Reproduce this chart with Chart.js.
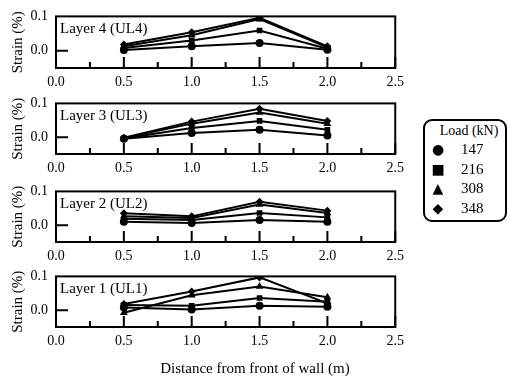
<!DOCTYPE html>
<html lang="en">
  <head>
    <meta charset="UTF-8" />
    <title>Strain vs distance</title>
    <script src="https://cdn.jsdelivr.net/npm/chart.js"></script>
    <style>
      body { margin: 0; background: #fff; font-family: "Liberation Serif", "Times New Roman", "DejaVu Serif", serif; }
      #wrap { position: relative; width: 508px; height: 381px; }
      .painel { position: absolute; left: 0; }
      #tituloX {
        position: absolute; left: 105px; width: 300px; top: 358px; text-align: center;
        font-size: 15px; line-height: 20px; color: #000;
      }
      #legenda {
        position: absolute; left: 423px; top: 119px; width: 80px; height: 99px;
        border: 2px solid #000; border-radius: 9px; font-size: 15px; color: #000;
      }
      #legenda .tit { text-align: center; font-size: 14px; margin-top: 1px; margin-left: 8px; line-height: 18px; }
      #legenda .item { position: relative; height: 19.5px; line-height: 19.5px; }
      #legenda .mk { position: absolute; left: 6px; width: 14px; text-align: center; font-family: "DejaVu Sans"; font-size: 14px; }
      #legenda .val { position: absolute; left: 36px; }
    </style>
  </head>
  <body>
    <div id="wrap">
      <canvas id="g4" class="painel"></canvas>
      <canvas id="g3" class="painel"></canvas>
      <canvas id="g2" class="painel"></canvas>
      <canvas id="g1" class="painel"></canvas>
      <div id="tituloX">Distance from front of wall (m)</div>
      <div id="legenda">
        <div class="tit">Load (kN)</div>
        <div class="item"><span class="mk">●</span><span class="val">147</span></div>
        <div class="item"><span class="mk">■</span><span class="val">216</span></div>
        <div class="item"><span class="mk">▲</span><span class="val">308</span></div>
        <div class="item"><span class="mk">◆</span><span class="val">348</span></div>
      </div>
    </div>
  </body>
</html>

<script>
  const fonte = "'Liberation Serif', 'Times New Roman', 'DejaVu Serif', serif";

  // distancias medidas (m)
  const distancias = [0.5, 1.0, 1.5, 2.0];
  const cargas = ["147", "216", "308", "348"];
  const marcadores = ["circle", "rect", "triangle", "rectRot"];
  const xTicks = [0, 0.5, 1.0, 1.5, 2.0, 2.5];
  const xTicksMenores = [0.25, 0.75, 1.25, 1.75, 2.25];
  const yTicks = [0, 0.1];

  // deformacao (%) por camada, uma linha por carga
  const ul4_147 = [0.002, 0.013, 0.023, 0.003];
  const ul4_216 = [0.008, 0.030, 0.059, 0.006];
  const ul4_308 = [0.013, 0.045, 0.092, 0.010];
  const ul4_348 = [0.018, 0.054, 0.096, 0.013];

  const ul3_147 = [-0.005, 0.012, 0.022, 0.005];
  const ul3_216 = [-0.004, 0.027, 0.048, 0.022];
  const ul3_308 = [-0.003, 0.040, 0.073, 0.040];
  const ul3_348 = [-0.002, 0.046, 0.084, 0.048];

  const ul2_147 = [0.010, 0.006, 0.015, 0.010];
  const ul2_216 = [0.019, 0.015, 0.036, 0.023];
  const ul2_308 = [0.026, 0.021, 0.061, 0.036];
  const ul2_348 = [0.035, 0.026, 0.069, 0.043];

  const ul1_147 = [0.008, 0.002, 0.013, 0.010];
  const ul1_216 = [0.015, 0.013, 0.036, 0.025];
  const ul1_308 = [-0.008, 0.044, 0.070, 0.038];
  const ul1_348 = [0.018, 0.055, 0.097, 0.020];

  const camadas = [
    { id: "g4", titulo: "Layer 4 (UL4)", topo: 10, base: 68, serie: [ul4_147, ul4_216, ul4_308, ul4_348] },
    { id: "g3", titulo: "Layer 3 (UL3)", topo: 97, base: 154, serie: [ul3_147, ul3_216, ul3_308, ul3_348] },
    { id: "g2", titulo: "Layer 2 (UL2)", topo: 185, base: 242, serie: [ul2_147, ul2_216, ul2_308, ul2_348] },
    { id: "g1", titulo: "Layer 1 (UL1)", topo: 270, base: 327, serie: [ul1_147, ul1_216, ul1_308, ul1_348] },
  ];

  // moldura, ticks para dentro e rotulo da camada
  const moldura = {
    id: "moldura",
    afterDraw(chart, args, opts) {
      const ctx = chart.ctx;
      const a = chart.chartArea;
      const sx = chart.scales.x;
      const sy = chart.scales.y;
      ctx.save();
      ctx.strokeStyle = "#000";
      ctx.lineWidth = 2;
      ctx.strokeRect(a.left, a.top, a.right - a.left, a.bottom - a.top);
      ctx.beginPath();
      xTicks.forEach((v) => {
        const px = sx.getPixelForValue(v);
        ctx.moveTo(px, a.bottom);
        ctx.lineTo(px, a.bottom - 11);
      });
      xTicksMenores.forEach((v) => {
        const px = sx.getPixelForValue(v);
        ctx.moveTo(px, a.bottom);
        ctx.lineTo(px, a.bottom - 6);
      });
      const py = sy.getPixelForValue(0);
      ctx.moveTo(a.left, py);
      ctx.lineTo(a.left + 12, py);
      ctx.stroke();
      ctx.fillStyle = "#000";
      ctx.font = "15px " + fonte;
      ctx.textBaseline = "middle";
      ctx.fillText(opts.texto, a.left + 4, a.top + 13);
      ctx.restore();
    },
  };

  function desenhar() {
    camadas.forEach((c) => {
      const altEixo = 24;
      const alturaCanvas = c.base - c.topo + 10 + altEixo;
      const el = document.getElementById(c.id);
      el.style.top = c.topo - 10 + "px";
      el.style.width = "410px";
      el.style.height = alturaCanvas + "px";

      const datasets = c.serie.map((valores, i) => ({
        label: cargas[i],
        data: distancias.map((d, k) => ({ x: d, y: valores[k] })),
        borderColor: "#000",
        backgroundColor: "#000",
        borderWidth: 2,
        pointStyle: marcadores[i],
        pointRadius: marcadores[i] == "triangle" ? 4.5 : 4,
        pointBorderWidth: 0,
        tension: 0,
      }));

      new Chart(el, {
        type: "line",
        data: { datasets: datasets },
        plugins: [moldura],
        options: {
          responsive: false,
          animation: false,
          layout: { padding: { top: 10, right: 7, left: 0, bottom: 0 } },
          scales: {
            x: {
              type: "linear",
              min: 0,
              max: 2.5,
              afterFit: (s) => { s.height = altEixo; },
              afterBuildTicks: (s) => { s.ticks = xTicks.map((v) => ({ value: v })); },
              grid: { display: false, drawTicks: false },
              border: { display: false },
              ticks: {
                padding: 6,
                color: "#000",
                font: { family: fonte, size: 14 },
                maxRotation: 0,
                callback: (v) => Number(v).toFixed(1),
              },
            },
            y: {
              min: -0.05,
              max: 0.1,
              afterFit: (s) => { s.width = 56; },
              afterBuildTicks: (s) => { s.ticks = yTicks.map((v) => ({ value: v })); },
              grid: { display: false, drawTicks: false },
              border: { display: false },
              ticks: {
                padding: 8,
                color: "#000",
                font: { family: fonte, size: 14 },
                callback: (v) => Number(v).toFixed(1),
              },
              title: {
                display: true,
                text: "Strain (%)",
                color: "#000",
                font: { family: fonte, size: 15 },
                padding: { top: 9, bottom: 0 },
              },
            },
          },
          plugins: {
            legend: { display: false },
            tooltip: { enabled: false },
            moldura: { texto: c.titulo },
          },
        },
      });
    });
  }

  document.fonts.load("15px 'Liberation Serif'").then(desenhar, desenhar);
</script>
